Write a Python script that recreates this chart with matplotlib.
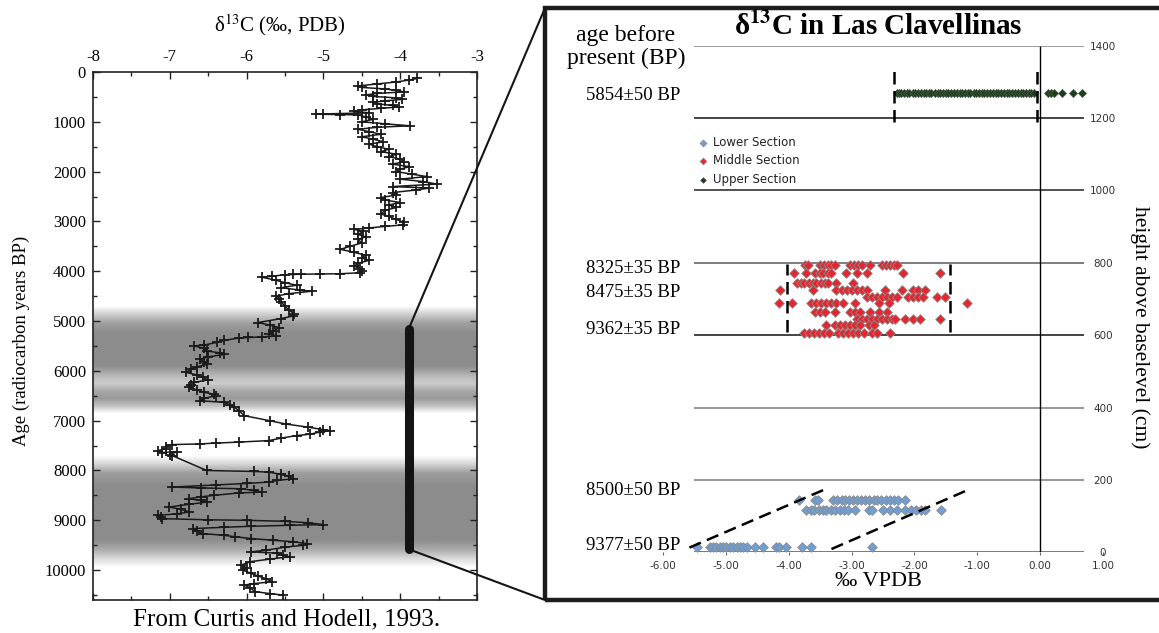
import matplotlib.pyplot as plt
import numpy as np
from matplotlib.patches import Rectangle, ConnectionPatch

plt.rcParams['font.family'] = ['Liberation Serif', 'DejaVu Serif']
plt.rcParams['mathtext.fontset'] = 'stix'

# ---- left panel: Curtis & Hodell (1993) record ----
age_bp = [130, 160, 200, 240, 280, 310, 340, 370, 400, 430, 460, 490, 520, 550, 580,
          610, 640, 670, 700, 730, 760, 790, 820, 845, 850, 855, 860, 900, 950, 1000,
          1040, 1080, 1110, 1150, 1200, 1250, 1300, 1350, 1400, 1450, 1500, 1550, 1600,
          1650, 1700, 1750, 1800, 1850, 1900, 1950, 2000, 2050, 2100, 2150, 2200, 2250,
          2300, 2330, 2370, 2420, 2470, 2520, 2570, 2620, 2670, 2720, 2780, 2850, 2900,
          2960, 3020, 3070, 3100, 3130, 3160, 3200, 3260, 3310, 3360, 3430, 3500, 3560,
          3620, 3680, 3730, 3780, 3840, 3900, 3950, 4000, 4030, 4050, 4055, 4060, 4065,
          4070, 4100, 4120, 4180, 4230, 4280, 4330, 4380, 4400, 4450, 4500, 4560, 4620,
          4700, 4780, 4850, 4900, 4950, 5030, 5080, 5130, 5200, 5250, 5300, 5320, 5330,
          5340, 5390, 5430, 5480, 5500, 5550, 5600, 5640, 5670, 5720, 5770, 5820, 5870,
          5920, 5970, 6030, 6080, 6130, 6180, 6230, 6280, 6330, 6380, 6430, 6470, 6500,
          6550, 6600, 6630, 6680, 6730, 6800, 6900, 7000, 7067, 7130, 7180, 7200, 7230,
          7270, 7300, 7350, 7400, 7430, 7450, 7467, 7480, 7520, 7560, 7600, 7640, 7620,
          7680, 7700, 8000, 8020, 8033, 8080, 8120, 8167, 8200, 8233, 8260, 8290, 8333,
          8350, 8367, 8400, 8433, 8450, 8500, 8530, 8567, 8600, 8633, 8680, 8733, 8780,
          8833, 8870, 8900, 8940, 8967, 8990, 9000, 9020, 9050, 9087, 9100, 9120, 9140,
          9167, 9220, 9267, 9300, 9330, 9367, 9400, 9430, 9467, 9500, 9540, 9600, 9633,
          9660, 9700, 9733, 9780, 9830, 9900, 9950, 10000, 10067, 10120, 10170, 10233,
          10270, 10300, 10360, 10433, 10470, 10500]
d13c_pdb = [-3.78, -3.88, -4.05, -4.30, -4.55, -4.50, -4.20, -4.05, -3.95, -4.30, -4.45,
            -4.35, -4.05, -3.98, -4.20, -4.35, -4.30, -4.10, -4.02, -4.25, -4.50, -4.60,
            -4.40, -5.10, -5.00, -4.78, -4.55, -4.45, -4.35, -4.50, -4.20, -3.87, -4.30,
            -4.55, -4.40, -4.25, -4.50, -4.35, -4.22, -4.40, -4.30, -4.15, -4.25, -4.05,
            -4.15, -4.00, -3.95, -4.10, -3.88, -4.00, -4.05, -3.85, -3.65, -4.00, -3.70,
            -3.52, -4.10, -3.62, -3.80, -4.10, -4.05, -4.25, -4.20, -4.00, -4.15, -4.05,
            -4.20, -4.25, -4.15, -4.05, -3.95, -3.97, -4.20, -4.40, -4.60, -4.48, -4.55,
            -4.45, -4.55, -4.50, -4.65, -4.78, -4.60, -4.45, -4.50, -4.40, -4.55, -4.60,
            -4.52, -4.50, -4.52, -4.78, -5.04, -5.29, -5.40, -5.50, -5.67, -5.80, -5.62,
            -5.50, -5.35, -5.55, -5.30, -5.15, -5.45, -5.62, -5.58, -5.55, -5.50, -5.45,
            -5.38, -5.40, -5.55, -5.85, -5.70, -5.58, -5.65, -5.71, -5.62, -5.80, -5.98,
            -6.10, -6.30, -6.39, -6.55, -6.68, -6.55, -6.52, -6.34, -6.30, -6.50, -6.61,
            -6.55, -6.52, -6.65, -6.72, -6.79, -6.65, -6.57, -6.50, -6.68, -6.72, -6.75,
            -6.65, -6.55, -6.43, -6.40, -6.55, -6.61, -6.30, -6.22, -6.16, -6.10, -6.03,
            -5.70, -5.49, -5.20, -5.00, -4.91, -5.05, -5.17, -5.35, -5.55, -5.71, -6.10,
            -6.40, -6.61, -6.97, -7.05, -7.05, -7.15, -7.10, -6.90, -7.00, -6.97, -6.52,
            -5.90, -5.71, -5.55, -5.45, -5.40, -5.60, -5.71, -6.00, -6.40, -6.97, -6.60,
            -6.07, -5.90, -5.80, -6.10, -6.43, -6.60, -6.75, -6.60, -6.52, -6.75, -7.01,
            -6.85, -6.75, -6.90, -7.15, -7.12, -7.10, -6.50, -6.00, -5.50, -5.20, -5.00,
            -5.44, -5.94, -6.30, -6.70, -6.65, -6.57, -6.30, -6.15, -5.94, -5.65, -5.40,
            -5.22, -5.26, -5.50, -5.75, -5.94, -5.60, -5.53, -5.44, -5.70, -5.95, -6.07,
            -6.00, -6.05, -5.94, -5.85, -5.75, -5.67, -5.90, -6.03, -5.95, -5.89, -5.70,
            -5.53]

# grey shading behind the record (age, grey level)
band_age = [0, 4700, 4850, 5050, 5250, 5900, 6100, 6250, 6400, 6550, 6700, 6850,
            7700, 7850, 8050, 8300, 9400, 9600, 9800, 9950, 10600]
band_shade = [1, 1, 0.82, 0.62, 0.55, 0.55, 0.72, 0.8, 0.66, 0.6, 0.75, 1,
              1, 0.86, 0.62, 0.55, 0.55, 0.68, 0.88, 1, 1]

# span of Las Clavellinas section on the record
bar_value = -3.89
bar_ages = [5160, 9580]

# ---- right panel: Las Clavellinas ----
upper_x = [-2.28, -2.25, -2.21, -2.16, -2.12, -2.08, -2.03, -1.99, -1.94, -1.90, -1.85,
           -1.81, -1.77, -1.73, -1.68, -1.63, -1.59, -1.55, -1.50, -1.46, -1.42, -1.37,
           -1.33, -1.28, -1.24, -1.20, -1.15, -1.11, -1.06, -1.02, -0.98, -0.93, -0.89,
           -0.84, -0.80, -0.75, -0.71, -0.67, -0.62, -0.58, -0.53, -0.49, -0.44, -0.40,
           -0.35, -0.31, -0.27, -0.22, -0.18, -0.14, -0.10, 0.12, 0.17, 0.22, 0.35,
           0.52, 0.66]
upper_h = [1268] * len(upper_x)

middle_rows = {
    794: [-3.74, -3.69, -3.50, -3.44, -3.38, -3.32, -3.26, -3.03, -2.96, -2.90, -2.83,
          -2.70, -2.52, -2.46, -2.39, -2.33, -2.27],
    772: [-3.92, -3.72, -3.58, -3.51, -3.45, -3.38, -3.32, -3.09, -2.92, -2.76, -2.18, -1.60],
    743: [-3.87, -3.81, -3.75, -3.68, -3.62, -3.56, -3.49, -3.43, -3.37, -3.24, -2.98],
    726: [-4.14, -3.62, -3.24, -3.16, -3.08, -3.00, -2.92, -2.84, -2.76, -2.47, -2.19,
          -2.03, -1.94, -1.83],
    706: [-2.76, -2.68, -2.60, -2.52, -2.44, -2.36, -2.28, -2.10, -2.02, -1.94, -1.86,
          -1.64, -1.51],
    688: [-4.15, -3.95, -3.64, -3.56, -3.48, -3.40, -3.32, -3.24, -3.14, -2.95, -2.57,
          -2.40, -1.17],
    665: [-3.58, -3.50, -3.42, -3.26, -3.03, -2.95, -2.87, -2.71, -2.57, -2.44],
    646: [-2.92, -2.84, -2.76, -2.68, -2.60, -2.52, -2.44, -2.36, -2.31, -2.15, -2.03,
          -1.91, -1.59],
    628: [-3.40, -3.26, -3.18, -3.11, -3.03, -2.95, -2.87, -2.73, -2.65],
    605: [-3.76, -3.68, -3.60, -3.52, -3.44, -3.36, -3.21, -3.13, -3.05, -2.97, -2.89,
          -2.81, -2.67, -2.59, -2.39],
}
lower_rows = {
    145: [-3.83, -3.58, -3.53, -3.29, -3.23, -3.16, -3.10, -3.04, -2.97, -2.91, -2.85,
          -2.78, -2.72, -2.65, -2.59, -2.53, -2.46, -2.39, -2.32, -2.26, -2.15],
    117: [-3.72, -3.65, -3.59, -3.52, -3.46, -3.40, -3.33, -3.26, -3.18, -3.12, -3.05,
          -2.95, -2.73, -2.68, -2.50, -2.39, -2.27, -2.15, -2.06, -1.97, -1.90, -1.83, -1.57],
    16: [-5.46, -5.25, -5.20, -5.15, -5.10, -5.04, -4.99, -4.94, -4.88, -4.83, -4.78,
         -4.72, -4.66, -4.54, -4.41, -4.20, -4.16, -4.04, -3.79, -3.65, -2.68],
}
middle_x = [x for h in middle_rows for x in middle_rows[h]]
middle_h = [h for h in middle_rows for x in middle_rows[h]]
lower_x = [x for h in lower_rows for x in lower_rows[h]]
lower_h = [h for h in lower_rows for x in lower_rows[h]]

height_ticks = [0, 200, 400, 600, 800, 1000, 1200, 1400]
grid_colors = ['#555555', '#7a7a7a', '#7a7a7a', '#111111', '#5a5a5a', '#222222', '#111111', '#808080']
vpdb_ticks = [-6, -5, -4, -3, -2, -1, 0, 1]

date_labels = ['5854±50 BP', '8325±35 BP', '8475±35 BP', '9362±35 BP', '8500±50 BP', '9377±50 BP']
date_heights = [1261, 784, 718, 616, 172, 18]

upper_bounds_x = [-2.32, -0.05]
upper_bounds_h = [1190, 1333]
middle_bounds_x = [-4.02, -1.43]
middle_bounds_h = [609, 798]
lower_bound_left = ([-5.58, -3.45], [13, 172])
lower_bound_right = ([-3.32, -1.18], [9, 170])

W, H = 1159, 633
fig = plt.figure(figsize=(W / 100, H / 100), dpi=100)

# ---------------- left panel ----------------
ax1 = fig.add_axes([93 / W, 1 - 600 / H, 384 / W, 528 / H])
grid_age = np.linspace(0, 10600, 800)
shade = np.interp(grid_age, band_age, band_shade)
ax1.imshow(shade[:, None], extent=[-8, -3, 10600, 0], aspect='auto', cmap='gray',
           vmin=0, vmax=1, interpolation='bilinear', zorder=0)
ax1.plot(d13c_pdb, age_bp, color='#1a1a1a', lw=1.1, marker='+', ms=7, mew=1.3, zorder=3)
ax1.plot([bar_value, bar_value], bar_ages, color='#141414', lw=6.5,
         solid_capstyle='round', zorder=4)
ax1.set_xlim(-8, -3)
ax1.set_ylim(10600, 0)
ax1.set_xticks(np.arange(-8, -2.5, 1))
ax1.set_xticks(np.arange(-8, -2.9, 0.5), minor=True)
ax1.set_yticks(np.arange(0, 10001, 1000))
ax1.set_yticks(np.arange(0, 10600, 500), minor=True)
ax1.set_xticklabels([str(v) for v in range(-8, -2)])
ax1.tick_params(which='both', direction='in', top=True, bottom=True, left=True, right=True,
                labeltop=True, labelbottom=False, labelsize=12, color='#222222', width=1.0)
ax1.tick_params(which='major', length=5, pad=5)
ax1.tick_params(which='minor', length=3)
for s in ax1.spines.values():
    s.set_linewidth(1.2)
    s.set_color('#222222')

fig.text(280 / W, 1 - 25 / H, 'δ$^{13}$C (‰, PDB)', ha='center', va='center', fontsize=15)
fig.text(21 / W, 1 - 341 / H, 'Age (radiocarbon years BP)', rotation=90,
         ha='center', va='center', fontsize=13.5)
fig.text(287 / W, 1 - 619 / H, 'From Curtis and Hodell, 1993.', ha='center', va='center',
         fontsize=18)

# ---------------- right panel ----------------
fig.add_artist(Rectangle((545 / W, 1 - 600 / H), (1165 - 545) / W, (600 - 8) / H,
                         transform=fig.transFigure, fill=False, lw=3.2, ec='#1c1c1c'))

ax2 = fig.add_axes([663 / W, 1 - 552.3 / H, 440 / W, (552.3 - 45.7) / H])
ax2.set_xlim(-6, 1)
ax2.set_ylim(0, 1400)
for s in ax2.spines.values():
    s.set_visible(False)
ax2.hlines(height_ticks, -5.5, 0.7, colors=grid_colors, lw=1.1, zorder=1)
ax2.vlines(0, 0, 1400, color='black', lw=1.0, zorder=1)

mk = dict(marker='D', s=24, edgecolors='#8a8a8a', linewidths=0.6, zorder=3)
ax2.scatter(lower_x, lower_h, color='#6f9fd6', label='Lower Section', **mk)
ax2.scatter(middle_x, middle_h, color='#e3262f', label='Middle Section', **mk)
ax2.scatter(upper_x, upper_h, color='#1c3d1c', label='Upper Section',
            marker='D', s=17, edgecolors='#4a5a4a', linewidths=0.5, zorder=3)

dash = (0, (5, 2.6))
ax2.vlines(upper_bounds_x, upper_bounds_h[0], upper_bounds_h[1], colors='black',
           linestyles=[dash], lw=1.8, zorder=4)
ax2.vlines(middle_bounds_x, middle_bounds_h[0], middle_bounds_h[1], colors='black',
           linestyles=[dash], lw=1.8, zorder=4)
ax2.plot(*lower_bound_left, color='black', ls=dash, lw=1.8, zorder=4, clip_on=False)
ax2.plot(*lower_bound_right, color='black', ls=dash, lw=1.8, zorder=4)

ax2.set_xticks(vpdb_ticks)
ax2.set_xticklabels([f'{v:.2f}' for v in vpdb_ticks], family='DejaVu Sans')
ax2.set_yticks(height_ticks)
ax2.set_yticklabels([str(v) for v in height_ticks], family='DejaVu Sans')
ax2.yaxis.tick_right()
ax2.tick_params(axis='x', length=2.5, color='#666666', labelsize=7.5, labelcolor='#333333', pad=3.5)
ax2.tick_params(axis='y', length=0, labelsize=7.5, labelcolor='#333333', pad=0)
for lab in ax2.get_yticklabels():
    lab.set_horizontalalignment('center')

for lbl, h in zip(date_labels, date_heights):
    ax2.text(-5.73, h, lbl, ha='right', va='center', fontsize=13.5, clip_on=False)

leg = ax2.legend(loc='upper left', bbox_to_anchor=(697 / W, 1 - 136 / H),
                 bbox_transform=fig.transFigure, frameon=False,
                 prop={'family': 'DejaVu Sans', 'size': 8.5}, handlelength=1.0,
                 handletextpad=0.35, labelspacing=0.45, borderpad=0, borderaxespad=0,
                 scatterpoints=1, markerscale=0.7)
for t in leg.get_texts():
    t.set_color('#222222')

fig.text(878 / W, 1 - 27 / H, r'δ$^{\mathbf{13}}$C in Las Clavellinas', ha='center',
         va='center', fontsize=21, fontweight='bold')
fig.text(626 / W, 1 - 47 / H, 'age before\npresent (BP)', ha='center', va='center',
         fontsize=17, linespacing=1.1)
fig.text(878 / W, 1 - 581 / H, '‰ VPDB', ha='center', va='center', fontsize=16)
fig.text(1140 / W, 1 - 327 / H, 'height above baselevel (cm)', rotation=270,
         ha='center', va='center', fontsize=15.5)

# connectors from the record to the section panel
for age, yfig in zip(bar_ages, [1 - 8 / H, 1 - 600 / H]):
    con = ConnectionPatch(xyA=(bar_value, age), coordsA=ax1.transData,
                          xyB=(545 / W, yfig), coordsB=fig.transFigure,
                          color='#151515', lw=1.5, zorder=5)
    fig.add_artist(con)

fig.savefig('out.png', dpi=100)
